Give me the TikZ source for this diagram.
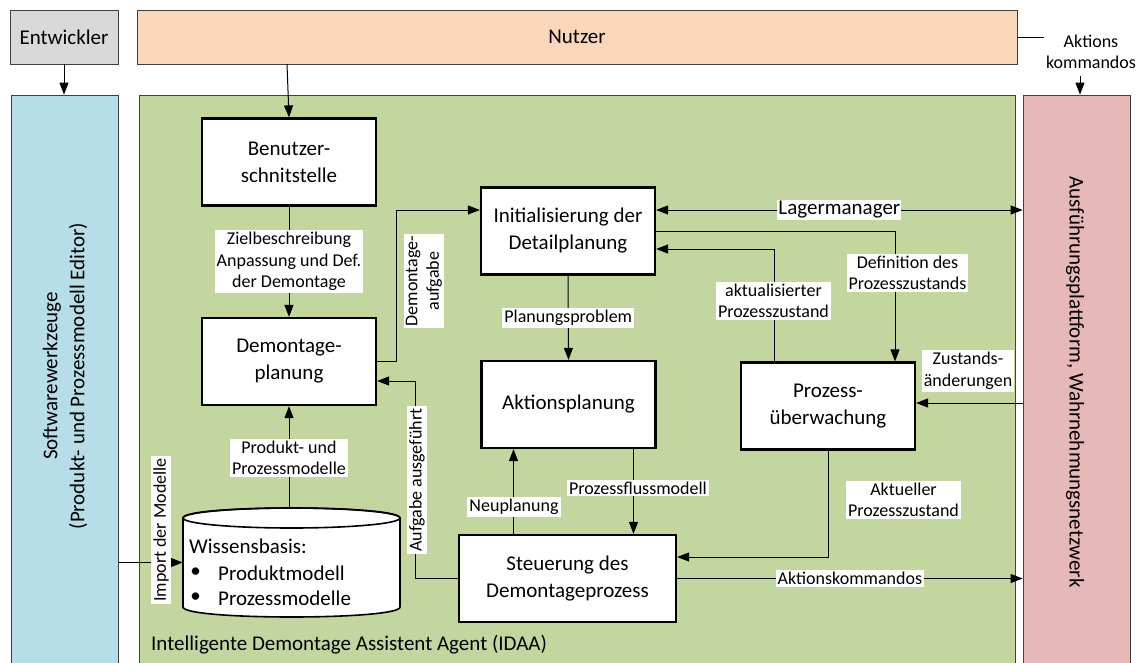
\documentclass[tikz,border=0pt]{standalone}
\usepackage{fontspec}
\setmainfont{Carlito}
\usetikzlibrary{arrows.meta,calc}
\definecolor{cgray}{HTML}{D9D9D9}
\definecolor{cpeach}{HTML}{FAD7BA}
\definecolor{cblue}{HTML}{B7DDE8}
\definecolor{cgreen}{HTML}{C4D6A0}
\definecolor{cpink}{HTML}{E6B9B8}
\definecolor{cborder}{HTML}{404040}
\newcommand\fsbox{\fontsize{21}{27}\selectfont}
\newcommand\fslbl{\fontsize{18}{21.5}\selectfont}
\begin{document}
\begin{tikzpicture}[x=1pt,y=-1pt,
  outer/.style={draw=cborder, line width=0.8pt, inner sep=0pt, align=center, font=\fsbox},
  box/.style={draw=black, line width=2.2pt, fill=white, align=center, inner sep=0pt, font=\fsbox, minimum width=174pt, minimum height=87pt},
  lbl/.style={fill=white, align=center, inner sep=2pt, font=\fslbl},
  plain/.style={inner sep=0pt, align=center, font=\fsbox},
  arr/.style={line width=1pt, -{Triangle[length=12pt,width=9pt]}},
  arrb/.style={line width=1pt, {Triangle[length=12pt,width=9pt]}-{Triangle[length=12pt,width=9pt]}},
  ln/.style={line width=1pt}]
\useasboundingbox (0,0) rectangle (1136,662);
\clip (0,0) rectangle (1136,662);
\fill[white] (0,0) rectangle (1136,662);

% outer boxes
\node[outer, fill=cgray, minimum width=108pt, minimum height=54pt] (ent) at (64,37) {Entwickler};
\node[outer, fill=cpeach, minimum width=880pt, minimum height=54pt] (nutzer) at (577,37) {Nutzer};
\node[outer, fill=cblue, minimum width=107pt, minimum height=577pt] (blue) at (64.5,383.5) {};
\node[outer, fill=cgreen, minimum width=876pt, minimum height=577pt] (green) at (577,383.5) {};
\node[outer, fill=cpink, minimum width=107pt, minimum height=577pt] (pink) at (1076.5,383.5) {};

\node[plain, rotate=90] (sw) at (65,376) {Softwarewerkzeuge\\(Produkt- und Prozessmodell Editor)};
\node[plain, rotate=-90] (ausf) at (1075,382) {Ausführungsplattform, Wahrnehmungsnetzwerk};
\node[plain, anchor=west] (idaa) at (151,645) {Intelligente Demontage Assistent Agent (IDAA)};

% inner boxes
\node[box] (benutzer) at (289,162) {Benutzer-\\schnitstelle};
\node[box] (dplan) at (289,361.5) {Demontage-\\planung};
\node[box] (init) at (568,231) {Initialisierung der\\Detailplanung};
\node[box] (aplan) at (568.5,404.5) {Aktionsplanung};
\node[box, minimum width=217pt] (steuer) at (567.5,578.5) {Steuerung des\\Demontageprozess};
\node[box] (proz) at (828,406) {Prozess-\\überwachung};

% knowledge base cylinder
\node[inner sep=0pt, minimum width=217pt, minimum height=109pt] (wb) at (291.5,562.5) {};
\filldraw[fill=white, draw=black, line width=1.6pt]
  (183,518) -- (183,607) .. controls (183,620.33) and (400,620.33) .. (400,607)
  -- (400,518) .. controls (400,504.67) and (183,504.67) .. cycle;
\draw[line width=1.6pt] (291.5,518) ellipse [x radius=108.5, y radius=10];
\node[plain, anchor=west] (wbt) at (189,546) {Wissensbasis:};
\node[plain] (b1) at (195.5,573) {\textbullet};
\node[plain, anchor=west] (wbp1) at (218,573) {Produktmodell};
\node[plain] (b2) at (195.5,598) {\textbullet};
\node[plain, anchor=west] (wbp2) at (218,598) {Prozessmodelle};

% top connectors
\draw[arr] (ent.south) -- (ent.south |- blue.north);
\coordinate (n1) at (287,64);
\draw[arr] (n1) -- (benutzer.north);
\coordinate (ak1) at (1044,37);
\draw[ln] (nutzer.east) -- (ak1);
\node[lbl, fill=none] (aktxt) at (1091,52) {Aktions\\kommandos};
\coordinate (ak2) at (1080,76);
\draw[arr] (ak2) -- (ak2 |- pink.north);

% inner connectors
\draw[arr] (benutzer.south) -- node[lbl] (zl) {Zielbeschreibung\\Anpassung und Def.\\der Demontage} (dplan.north);

\draw[arr] (dplan.east) -- ++(19,0) |- ([yshift=21pt]init.west);
\node[lbl, rotate=90] (dal) at (424,281) {Demontage-\\aufgabe};

\draw[arrb] ([yshift=21pt]init.east) -- node[lbl, font=\fsbox, inner sep=1pt] (lm) {Lagermanager} ([yshift=21pt]init.east -| pink.west);

\draw[arr] (init.east) -| ([xshift=67pt]proz.north);
\node[lbl] (dpl) at (907.5,273) {Definition des\\Prozesszustands};

\draw[arr] ([xshift=-54pt]proz.north) |- ([yshift=-18pt]init.east);
\node[lbl] (apl) at (773.5,301) {aktualisierter\\Prozesszustand};

\draw[arr] (init.south) -- node[lbl] (pp) {Planungsproblem} (aplan.north);

\draw[arr] ([yshift=3pt]proz.east -| pink.west) -- ([yshift=3pt]proz.east);
\node[lbl] (za) at (968,371) {Zustands-\\änderungen};

\draw[arr] ([xshift=-55pt]aplan.south |- steuer.north) -- ([xshift=-55pt]aplan.south);
\node[lbl] (np) at (514,507) {Neuplanung};

\draw[arr] ([xshift=65pt]aplan.south) -- ([xshift=65pt]aplan.south |- steuer.north);
\node[lbl] (pf) at (638,488) {Prozessflussmodell};

\draw[arr] (proz.south) |- ([yshift=21.5pt]steuer.east);
\node[lbl] (apz) at (903.5,500) {Aktueller\\Prozesszustand};

\draw[arr] (steuer.east) -- node[lbl] (ak) {Aktionskommandos} (steuer.east -| pink.west);

\draw[arr] (steuer.west) -- ++(-42,0) |- ([yshift=-19.5pt]dplan.east);
\node[lbl, rotate=90] (aa) at (417,480) {Aufgabe ausgeführt};

\draw[arr] (dplan.south |- wb.north) -- (dplan.south);
\node[lbl] (ppm) at (289,458) {Produkt- und\\Prozessmodelle};

\draw[arr] (blue.east |- wb.west) -- (wb.west);
\node[lbl, rotate=90] (im) at (161,530) {Import der Modelle};
\end{tikzpicture}
\end{document}
